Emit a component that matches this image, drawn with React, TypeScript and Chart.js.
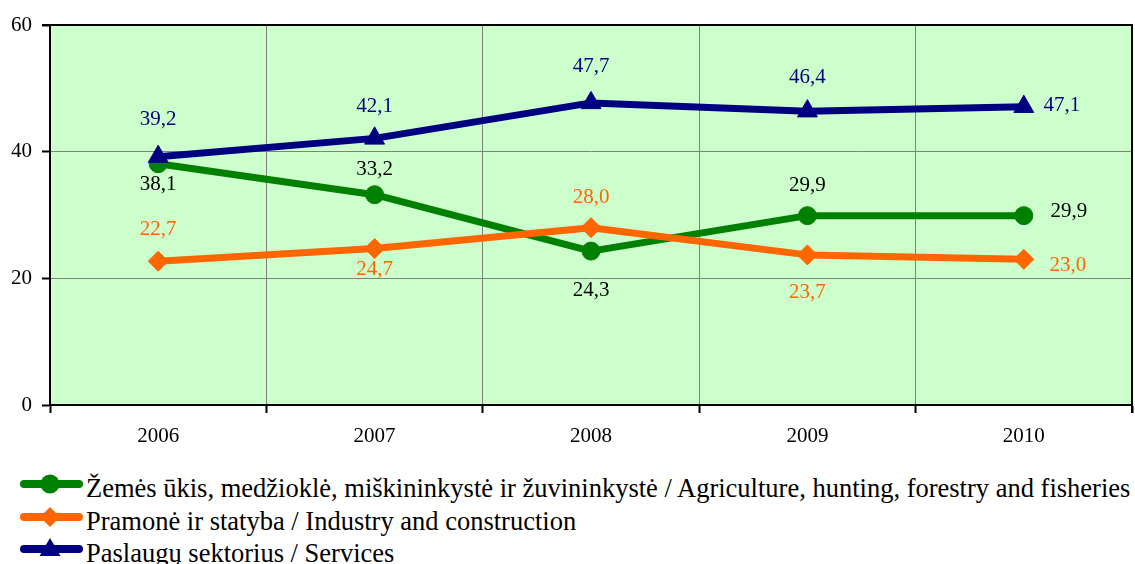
import React, { useEffect, useRef } from "react";
import { Chart, registerables } from "chart.js";

Chart.register(...registerables);

const categories = ["2006", "2007", "2008", "2009", "2010"];
const agriculture = [38.1, 33.2, 24.3, 29.9, 29.9];
const industry = [22.7, 24.7, 28.0, 23.7, 23.0];
const services = [39.2, 42.1, 47.7, 46.4, 47.1];
const yMin = 0;
const yMax = 60;
const yStep = 20;
const seriesNames = [
  "Žemės ūkis, medžioklė, miškininkystė ir žuvininkystė / Agriculture, hunting, forestry and fisheries",
  "Pramonė ir statyba / Industry and construction",
  "Paslaugų sektorius / Services",
];

const COLORS = ["#008000", "#FF6600", "#000080"];
const LABEL_COLORS = ["#000000", "#FF6600", "#000080"];
const POINT_STYLES = ["circle", "rectRot", "triangle"];
const POINT_RADII = [9, 10, 11.5];

// label offsets (dx, dy) from each point, per series
const LABEL_OFFSETS = [
  [[0, 21], [0, -25], [0, 39], [0, -30], [45, -4]],
  [[0, -32], [0, 21], [0, -30], [0, 38], [44, 6]],
  [[0, -37], [0, -32], [0, -36], [0, -34], [38, -1]],
];

const FONT_FAMILY = "'Liberation Serif', 'Times New Roman', serif";

const bgPlugin = {
  id: "plotBg",
  beforeDraw(chart: any) {
    const { ctx, chartArea: a } = chart;
    ctx.save();
    ctx.fillStyle = "#CCFFCC";
    ctx.fillRect(a.left, a.top, a.right - a.left, a.bottom - a.top);
    ctx.restore();
  },
};

const framePlugin = {
  id: "frame",
  afterDraw(chart: any) {
    const { ctx, chartArea: a } = chart;
    ctx.save();
    ctx.strokeStyle = "#000";
    ctx.lineWidth = 2;
    ctx.beginPath();
    ctx.moveTo(a.left - 8, a.top);
    ctx.lineTo(a.right, a.top);
    ctx.lineTo(a.right, a.bottom + 8);
    ctx.stroke();
    ctx.restore();
  },
};

const labelPlugin = {
  id: "valueLabels",
  afterDatasetsDraw(chart: any) {
    const { ctx } = chart;
    ctx.save();
    ctx.font = `21px ${FONT_FAMILY}`;
    ctx.textAlign = "center";
    ctx.textBaseline = "middle";
    chart.data.datasets.forEach((ds: any, di: number) => {
      const meta = chart.getDatasetMeta(di);
      meta.data.forEach((pt: any, i: number) => {
        const v = ds.data[i] as number;
        const [dx, dy] = LABEL_OFFSETS[di][i];
        ctx.fillStyle = LABEL_COLORS[di];
        ctx.fillText(v.toFixed(1).replace(".", ","), pt.x + dx, pt.y + dy);
      });
    });
    ctx.restore();
  },
};

function LegendSymbol({ idx }: { idx: number }) {
  const c = COLORS[idx];
  let marker: React.ReactNode = null;
  if (idx === 0) marker = <circle cx={50} cy={12} r={9.5} fill={c} />;
  if (idx === 1) marker = <polygon points="50,2 60,12 50,22 40,12" fill={c} />;
  if (idx === 2) marker = <polygon points="50,1 60.5,19 39.5,19" fill={c} />;
  return (
    <svg width={86} height={26} style={{ position: "absolute", left: 0, top: 0 }}>
      <line x1={24} y1={12} x2={79} y2={12} stroke={c} strokeWidth={8} strokeLinecap="round" />
      {marker}
    </svg>
  );
}

export default function App() {
  const ref = useRef<HTMLCanvasElement>(null);

  useEffect(() => {
    const font = { family: FONT_FAMILY, size: 21 };
    const seriesData = [agriculture, industry, services];
    const chart = new Chart(ref.current!, {
      type: "line",
      data: {
        labels: categories,
        datasets: seriesData.map((d, i) => ({
          label: seriesNames[i],
          data: d,
          borderColor: COLORS[i],
          backgroundColor: COLORS[i],
          pointBackgroundColor: COLORS[i],
          pointBorderColor: COLORS[i],
          pointBorderWidth: 1,
          borderWidth: 7,
          borderJoinStyle: "round" as const,
          pointStyle: POINT_STYLES[i] as any,
          pointRadius: POINT_RADII[i],
          tension: 0,
          fill: false,
          clip: false as any,
          order: 3 - i,
        })),
      },
      options: {
        animation: false,
        responsive: true,
        maintainAspectRatio: false,
        layout: { autoPadding: false, padding: { top: 25, right: 3, left: 0, bottom: 0 } },
        plugins: {
          legend: { display: false },
          tooltip: { enabled: false },
        },
        scales: {
          x: {
            type: "category",
            offset: true,
            grid: {
              offset: true,
              color: "#808080",
              lineWidth: 1,
              tickColor: "#000",
              tickLength: 8,
              tickWidth: 2,
            },
            border: { color: "#000", width: 2 },
            ticks: { font, color: "#000", padding: 11, maxRotation: 0 },
            afterFit: (s: any) => {
              s.height = 55;
              s.paddingLeft = 0;
              s.paddingRight = 0;
            },
          },
          y: {
            min: yMin,
            max: yMax,
            grid: {
              color: "#808080",
              lineWidth: 1,
              tickColor: "#000",
              tickLength: 8,
              tickWidth: 2,
            },
            border: { color: "#000", width: 2 },
            ticks: { font, color: "#000", stepSize: yStep, padding: 10 },
            afterFit: (s: any) => {
              s.width = 50;
            },
          },
        },
      },
      plugins: [bgPlugin, framePlugin, labelPlugin],
    });
    return () => chart.destroy();
  }, []);

  return (
    <div style={{ position: "absolute", left: 0, top: 0, width: 1135, height: 564, overflow: "hidden", background: "#fff" }}>
      <div style={{ position: "absolute", left: 0, top: 0, width: 1135, height: 460 }}>
        <canvas ref={ref} />
      </div>
      <div style={{ position: "absolute", left: 0, top: 472, width: 1135 }}>
        {seriesNames.map((name, i) => (
          <div
            key={i}
            style={{
              position: "relative",
              height: 32.5,
              lineHeight: "32.5px",
              fontFamily: FONT_FAMILY,
              fontSize: 26.5,
              color: "#000",
              whiteSpace: "nowrap",
            }}
          >
            <LegendSymbol idx={i} />
            <span style={{ position: "absolute", left: 86, top: 0 }}>{name}</span>
          </div>
        ))}
      </div>
    </div>
  );
}
